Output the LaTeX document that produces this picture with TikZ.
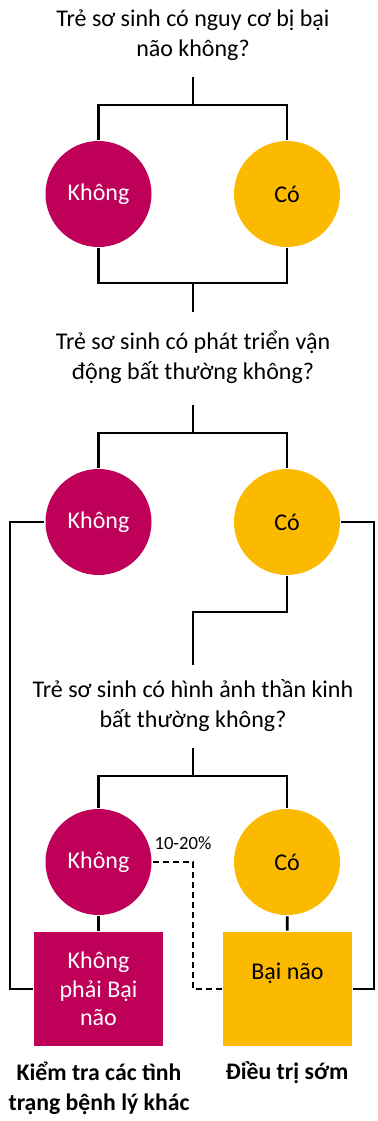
\documentclass[tikz,border=0pt]{standalone}
\usepackage{fontspec}
\setmainfont{Carlito}
\usepackage{tikz}
\usetikzlibrary{calc}
\usetikzlibrary{positioning}
\definecolor{nocol}{HTML}{BE0058}
\definecolor{yescol}{HTML}{FBBA00}
\begin{document}
\begin{tikzpicture}[x=0.75pt,y=-0.75pt, line width=2.2pt,
  question/.style={align=center,font=\fontsize{18}{22.5}\selectfont},
  no node/.style={circle,fill=nocol,text=white,minimum size=79.5pt,inner sep=0pt,font=\fontsize{18}{20}\selectfont},
  yes node/.style={circle,fill=yescol,text=black,minimum size=79.5pt,inner sep=0pt,font=\fontsize{18}{20}\selectfont},
  no box/.style={rectangle,fill=nocol,text=white,minimum width=96.75pt,minimum height=85.5pt,inner sep=0pt,align=center,font=\fontsize{18}{21.5}\selectfont},
  yes box/.style={rectangle,fill=yescol,text=black,minimum width=96.75pt,minimum height=85.5pt,inner sep=0pt,font=\fontsize{18}{20}\selectfont},
  outcome/.style={align=center,font=\bfseries\fontsize{17.8}{22.5}\selectfont},
  pct/.style={font=\fontsize{14}{16}\selectfont}]
\useasboundingbox (0,0) rectangle (378,1121);
% questions
\node[question] (q1) at (193,35) {Trẻ sơ sinh có nguy cơ bị bại\\não không?};
\node[question] (q2) at (193,357) {Trẻ sơ sinh có phát triển vận\\động bất thường không?};
\node[question] (q3) at (193,706) {Trẻ sơ sinh có hình ảnh thần kinh\\bất thường không?};
% answers
\node[no node] (no1) at (98.5,194) {Không};
\node[yes node] (yes1) at (287,194) {Có};
\node[no node] (no2) at (98.5,522) {Không};
\node[yes node] (yes2) at (287,522) {Có};
\node[no node] (no3) at (98.5,862) {Không};
\node[yes node] (yes3) at (287,862) {Có};
\node[no box] (nbox) at (98.5,989) {Không\\phải Bại\\não};
\node[yes box, label={[yshift=12pt,font=\fontsize{18}{20}\selectfont]center:Bại não}] (bbox) at (287.5,989) {};
\node[pct] (p) at (183,843) {10-20\%};
\node[outcome] (o1) at (99,1088) {Kiểm tra các tình\\trạng bệnh lý khác};
\node[outcome] (o2) at (287,1073) {Điều trị sớm};
% junctions
\coordinate (s1) at (193,77);  \coordinate (j1) at (193,105);
\coordinate (j2) at (193,283); \coordinate (s2) at (193,312);
\coordinate (s3) at (193,405); \coordinate (j3) at (193,433);
\coordinate (k) at (193,612);  \coordinate (s4) at (193,665);
\coordinate (s5) at (193,748); \coordinate (j5) at (193,776);
\coordinate (lo) at (10,989);  \coordinate (ro) at (374,989);
\coordinate (d1) at (193,862); \coordinate (d2) at (193,989);
% connectors
\draw (s1) -- (j1);
\draw (no1) |- (j1) -| (yes1);
\draw (no1) |- (j2) -| (yes1);
\draw (j2) -- (s2);
\draw (s3) -- (j3);
\draw (no2) |- (j3) -| (yes2);
\draw (no2) -| (lo) -- (nbox);
\draw (yes2) -| (ro) -- (bbox);
\draw (yes2) |- (k) -- (s4);
\draw (s5) -- (j5);
\draw (no3) |- (j5) -| (yes3);
\draw (no3) -- (nbox);
\draw (yes3) -- (bbox);
\draw[dash pattern=on 4.5pt off 3pt] (no3) -- (d1) -- (d2) -- (bbox);
\end{tikzpicture}
\end{document}
